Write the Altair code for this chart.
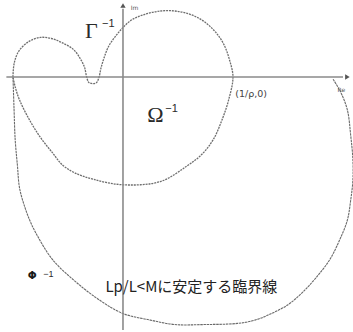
import altair as alt
import pandas as pd

# Closed inverse-locus contour: upper lobe is Γ⁻¹, lower lobe is Ω⁻¹.
# Re / Im in units of 1/ρ (the contour crosses the real axis at -1 and 1/ρ).
gamma_re = [-1.00, -0.99, -0.95, -0.86, -0.75, -0.65, -0.55, -0.45, -0.39, -0.35,
            -0.33, -0.31, -0.27, -0.24, -0.22, -0.20, -0.17, -0.13, -0.06, 0.00,
            0.08, 0.20, 0.34, 0.47, 0.61, 0.73, 0.84, 0.92, 0.97, 1.00,
            0.96, 0.90, 0.82, 0.72, 0.58, 0.34, 0.00, -0.27, -0.44, -0.55,
            -0.64, -0.75, -0.85, -0.94, -0.98, -1.00]
gamma_im = [0.00, 0.12, 0.23, 0.32, 0.36, 0.35, 0.31, 0.25, 0.17, 0.09,
            0.00, -0.05, -0.06, -0.05, -0.01, 0.08, 0.18, 0.28, 0.38, 0.45,
            0.52, 0.57, 0.60, 0.60, 0.57, 0.51, 0.41, 0.29, 0.15, 0.00,
            -0.21, -0.39, -0.57, -0.70, -0.81, -0.95, -0.98, -0.93, -0.87, -0.80,
            -0.69, -0.55, -0.39, -0.21, -0.09, 0.00]

# Outer critical locus Φ⁻¹ (stability boundary for Lp/L < M)
phi_re = [-1.00, -0.99, -0.98, -0.96, -0.94, -0.89, -0.84, -0.78, -0.64, -0.42,
          -0.21, 0.00, 0.25, 0.47, 0.75, 1.04, 1.20, 1.35, 1.50, 1.63,
          1.75, 1.88, 1.97, 2.04, 2.07, 2.09, 2.09, 2.07, 2.04, 1.98, 1.91]
phi_im = [0.00, -0.30, -0.57, -0.80, -1.01, -1.19, -1.32, -1.44, -1.66, -1.87,
          -2.03, -2.15, -2.21, -2.25, -2.25, -2.24, -2.21, -2.15, -2.07, -1.96,
          -1.83, -1.66, -1.48, -1.30, -1.12, -0.94, -0.75, -0.53, -0.30, -0.14, -0.02]

# Axis extents
re_axis = [-1.06, 2.00]
im_axis = [-2.30, 0.62]
arrow_x = [2.04, 0.00]
arrow_y = [0.00, 0.65]
arrow_shape = ["triangle-right", "triangle-up"]

X_DOMAIN = [-1.118, 2.091]
Y_DOMAIN = [-2.318, 0.70]

xs = alt.Scale(domain=X_DOMAIN, nice=False, zero=False)
ys = alt.Scale(domain=Y_DOMAIN, nice=False, zero=False)


def curve(re, im):
    return pd.DataFrame({"re": re, "im": im, "k": range(len(re))})


def line_layer(df, dash, color, width):
    return alt.Chart(df).mark_line(
        interpolate="catmull-rom", strokeDash=dash, color=color,
        strokeWidth=width, clip=True
    ).encode(
        x=alt.X("re:Q", scale=xs, axis=None),
        y=alt.Y("im:Q", scale=ys, axis=None),
        order="k:Q",
    )


axes_h = alt.Chart(pd.DataFrame({"x": [re_axis[0]], "x2": [re_axis[1]], "y": [0.0]})).mark_rule(
    color="#8a8a8a", strokeWidth=1.6
).encode(x=alt.X("x:Q", scale=xs, axis=None), x2="x2:Q", y=alt.Y("y:Q", scale=ys, axis=None))

axes_v = alt.Chart(pd.DataFrame({"y": [im_axis[0]], "y2": [im_axis[1]], "x": [0.0]})).mark_rule(
    color="#8a8a8a", strokeWidth=1.6
).encode(y=alt.Y("y:Q", scale=ys, axis=None), y2="y2:Q", x=alt.X("x:Q", scale=xs, axis=None))

arrows = alt.Chart(pd.DataFrame({"x": arrow_x, "y": arrow_y, "s": arrow_shape})).mark_point(
    filled=True, color="#555555", size=28, opacity=1
).encode(
    x=alt.X("x:Q", scale=xs, axis=None),
    y=alt.Y("y:Q", scale=ys, axis=None),
    shape=alt.Shape("s:N", scale=None, legend=None),
)

gamma_line = line_layer(curve(gamma_re, gamma_im), [2, 0.9], "#6e6e6e", 1.3)
phi_line = line_layer(curve(phi_re, phi_im), [2.5, 0.7], "#6a6a6a", 1.1)


def text_layer(rows, **kw):
    df = pd.DataFrame(rows, columns=["x", "y", "t"])
    return alt.Chart(df).mark_text(align="left", baseline="alphabetic", **kw).encode(
        x=alt.X("x:Q", scale=xs, axis=None),
        y=alt.Y("y:Q", scale=ys, axis=None),
        text="t:N",
    )


greek = text_layer([[-0.345, 0.355, "Γ"], [0.22, -0.41, "Ω"]],
                   font="Liberation Serif", fontSize=22, color="#2a2a2a")
greek_sup = text_layer([[-0.19, 0.455, "−1"], [0.385, -0.32, "−1"]],
                       font="Liberation Sans", fontSize=11, color="#2a2a2a")
phi_sym = text_layer([[-0.865, -1.84, "Φ"]], font="DejaVu Sans", fontSize=10.5,
                     fontWeight="bold", color="#1a1a1a")
phi_sup = text_layer([[-0.725, -1.82, "−1"]], font="Liberation Sans", fontSize=9,
                     color="#2a2a2a")
small = text_layer([[1.02, -0.18, "(1/ρ,0)"]], font="DejaVu Sans", fontSize=9.5,
                   color="#444444")
axis_names = text_layer([[0.07, 0.61, "Im"], [1.95, -0.14, "Re"]], font="DejaVu Sans",
                        fontSize=6, color="#555555")
caption = text_layer([[-0.16, -1.955, "Lp/L<Mに安定する臨界線"]],
                     font="Noto Sans CJK JP", fontSize=15, color="#222222")

chart = alt.layer(
    phi_line, gamma_line, axes_h, axes_v, arrows,
    greek, greek_sup, phi_sym, phi_sup, small, axis_names, caption,
).properties(
    width=353, height=332, padding=0,
    autosize=alt.AutoSizeParams(type="none"),
    background="white",
).configure_view(stroke=None)

chart.save("out.html", embed_options={"renderer": "svg", "actions": False})
